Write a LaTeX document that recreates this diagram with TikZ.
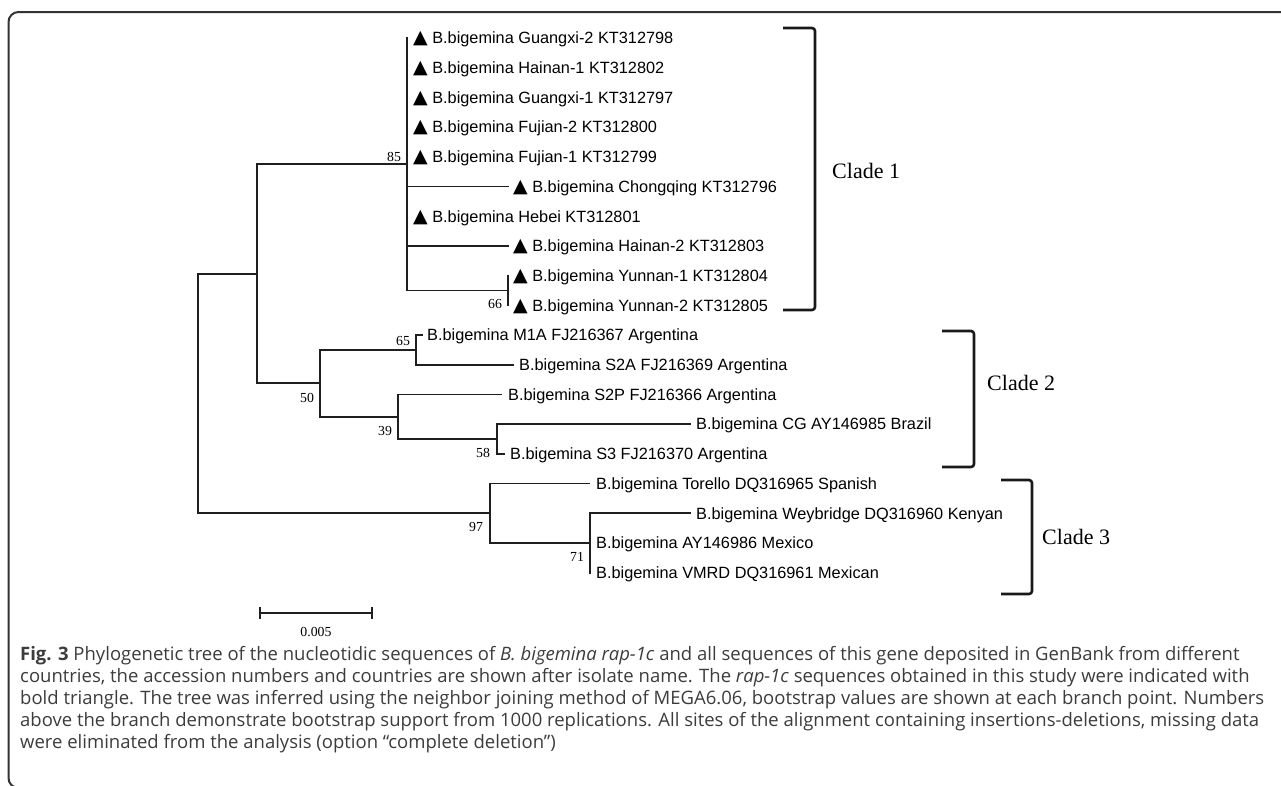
\documentclass[tikz,border=0pt]{standalone}
\usepackage{fontspec}
\setmainfont{Liberation Serif}
\newfontfamily\leaffont{Liberation Sans}
\newfontfamily\symfont{DejaVu Sans}
\newfontfamily\capfont{Open Sans}
\definecolor{capgray}{HTML}{3C3C3C}
\definecolor{framegray}{HTML}{333333}
\newcommand{\tri}{{\symfont\fontsize{19}{20}\selectfont ▲}\hspace{4.5pt}}
\begin{document}
\begin{tikzpicture}[x=1pt,y=-1pt,
  br/.style={line width=1.8pt, draw=black!88, line cap=rect},
  leaflab/.style={anchor=west, inner sep=0pt, font=\leaffont\fontsize{16.3}{18}\selectfont, text height=11.7pt, text depth=0pt},
  boot/.style={inner sep=0pt, font=\fontsize{13.8}{14}\selectfont},
  cladebr/.style={line width=2.6pt, draw=black!90, rounded corners=3pt},
  cladelab/.style={anchor=west, inner sep=0pt, font=\fontsize{22}{24}\selectfont},
  caplab/.style={anchor=base west, inner sep=0pt, text=capgray, font=\capfont\fontsize{18.5}{22}\selectfont}
]
\useasboundingbox (0,0) rectangle (1281,785);
% frame
\draw[line width=2pt, framegray, rounded corners=10pt] (1295,12) -- (8.5,12) -- (8.5,788) -- (1295,788);

% leaf tips
\coordinate (t0) at (407,38.0);
\coordinate (t1) at (407,67.7);
\coordinate (t2) at (407,97.4);
\coordinate (t3) at (407,127.1);
\coordinate (t4) at (407,156.8);
\coordinate (t5) at (508,186.5);
\coordinate (t6) at (407,216.2);
\coordinate (t7) at (508,245.9);
\coordinate (t8) at (508,275.6);
\coordinate (t9) at (508,305.3);
\coordinate (t10) at (422,335.0);
\coordinate (t11) at (513,364.7);
\coordinate (t12) at (501,394.4);
\coordinate (t13) at (690,424.1);
\coordinate (t14) at (504,453.8);
\coordinate (t15) at (589,483.5);
\coordinate (t16) at (690,513.2);
\coordinate (t17) at (590,542.9);
\coordinate (t18) at (590,572.6);
% internal nodes
\coordinate (n66) at (508,290.5);
\coordinate (n85) at (407,164.2);
\coordinate (n65) at (416,349.9);
\coordinate (n58) at (497,439.0);
\coordinate (n39) at (398,416.7);
\coordinate (n50) at (320,383.3);
\coordinate (nA) at (257,273.7);
\coordinate (n71) at (590,542.9);
\coordinate (n97) at (490,513.2);
\coordinate (root) at (198,393.5);

% branches
\draw[br] (root) |- (nA);
\draw[br] (root) |- (n97);
\draw[br] (nA) |- (n85);
\draw[br] (nA) |- (n50);
\foreach \t in {t0,t1,t2,t3,t4,t5,t6,t7} {\draw[br] (n85) |- (\t);}
\draw[br] (n85) |- (n66);
\draw[br] (n66) |- (t8);
\draw[br] (n66) |- (t9);
\draw[br] (n50) |- (n65);
\draw[br] (n50) |- (n39);
\draw[br] (n65) |- (t10);
\draw[br] (n65) |- (t11);
\draw[br] (n39) |- (t12);
\draw[br] (n39) |- (n58);
\draw[br] (n58) |- (t13);
\draw[br] (n58) |- (t14);
\draw[br] (n97) |- (t15);
\draw[br] (n97) |- (n71);
\draw[br] (n71) |- (t16);
\draw[br] (n71) |- (t17);
\draw[br] (n71) |- (t18);

% leaf labels
\node[leaflab] (l0) at ([xshift=6pt]t0) {\tri B.bigemina Guangxi-2 KT312798};
\node[leaflab] (l1) at ([xshift=6pt]t1) {\tri B.bigemina Hainan-1 KT312802};
\node[leaflab] (l2) at ([xshift=6pt]t2) {\tri B.bigemina Guangxi-1 KT312797};
\node[leaflab] (l3) at ([xshift=6pt]t3) {\tri B.bigemina Fujian-2 KT312800};
\node[leaflab] (l4) at ([xshift=6pt]t4) {\tri B.bigemina Fujian-1 KT312799};
\node[leaflab] (l5) at ([xshift=5pt]t5) {\tri B.bigemina Chongqing KT312796};
\node[leaflab] (l6) at ([xshift=6pt]t6) {\tri B.bigemina Hebei KT312801};
\node[leaflab] (l7) at ([xshift=5pt]t7) {\tri B.bigemina Hainan-2 KT312803};
\node[leaflab] (l8) at ([xshift=5pt]t8) {\tri B.bigemina Yunnan-1 KT312804};
\node[leaflab] (l9) at ([xshift=5pt]t9) {\tri B.bigemina Yunnan-2 KT312805};
\node[leaflab] (l10) at ([xshift=5pt]t10) {B.bigemina M1A FJ216367 Argentina};
\node[leaflab] (l11) at ([xshift=6pt]t11) {B.bigemina S2A FJ216369 Argentina};
\node[leaflab] (l12) at ([xshift=7pt]t12) {B.bigemina S2P FJ216366 Argentina};
\node[leaflab] (l13) at ([xshift=6pt]t13) {B.bigemina CG AY146985 Brazil};
\node[leaflab] (l14) at ([xshift=6pt]t14) {B.bigemina S3 FJ216370 Argentina};
\node[leaflab] (l15) at ([xshift=7pt]t15) {B.bigemina Torello DQ316965 Spanish};
\node[leaflab] (l16) at ([xshift=6pt]t16) {B.bigemina Weybridge DQ316960 Kenyan};
\node[leaflab] (l17) at ([xshift=6pt]t17) {B.bigemina AY146986 Mexico};
\node[leaflab] (l18) at ([xshift=6pt]t18) {B.bigemina VMRD DQ316961 Mexican};

% bootstrap values
\node[boot] (b85) at (394,157) {85};
\node[boot] (b66) at (495,304) {66};
\node[boot] (b65) at (403,341) {65};
\node[boot] (b50) at (307,398) {50};
\node[boot] (b39) at (385,431) {39};
\node[boot] (b58) at (483,453) {58};
\node[boot] (b97) at (476,527) {97};
\node[boot] (b71) at (577,557) {71};

% scale bar
\coordinate (s1) at (260,613);
\coordinate (s2) at (372,613);
\draw[br, line cap=butt] (s1) -- (s2);
\draw[br, line cap=butt] ([yshift=6pt]s1) -- ([yshift=-6pt]s1);
\draw[br, line cap=butt] ([yshift=6pt]s2) -- ([yshift=-6pt]s2);
\node[boot] (slab) at (316,632) {0.005};

% clade brackets
\draw[cladebr] (783,28) -- (815,28) -- (815,310) -- (783,310);
\draw[cladebr] (942,331) -- (974,331) -- (974,467) -- (942,467);
\draw[cladebr] (1001,480) -- (1032,480) -- (1032,594) -- (1001,594);
\node[cladelab] (c1) at (832,171) {Clade 1};
\node[cladelab] (c2) at (987,383) {Clade 2};
\node[cladelab] (c3) at (1042,537) {Clade 3};

% caption
\node[caplab] (cap1) at (20,660) {\textbf{Fig. 3} Phylogenetic tree of the nucleotidic sequences of \textit{B. bigemina rap-1c} and all sequences of this gene deposited in GenBank from different};
\node[caplab] (cap2) at (20,682) {countries, the accession numbers and countries are shown after isolate name. The \textit{rap-1c} sequences obtained in this study were indicated with};
\node[caplab] (cap3) at (20,704) {bold triangle. The tree was inferred using the neighbor joining method of MEGA6.06, bootstrap values are shown at each branch point. Numbers};
\node[caplab] (cap4) at (20,726) {above the branch demonstrate bootstrap support from 1000 replications. All sites of the alignment containing insertions-deletions, missing data};
\node[caplab] (cap5) at (20,748) {were eliminated from the analysis (option “complete deletion”)};
\end{tikzpicture}
\end{document}
